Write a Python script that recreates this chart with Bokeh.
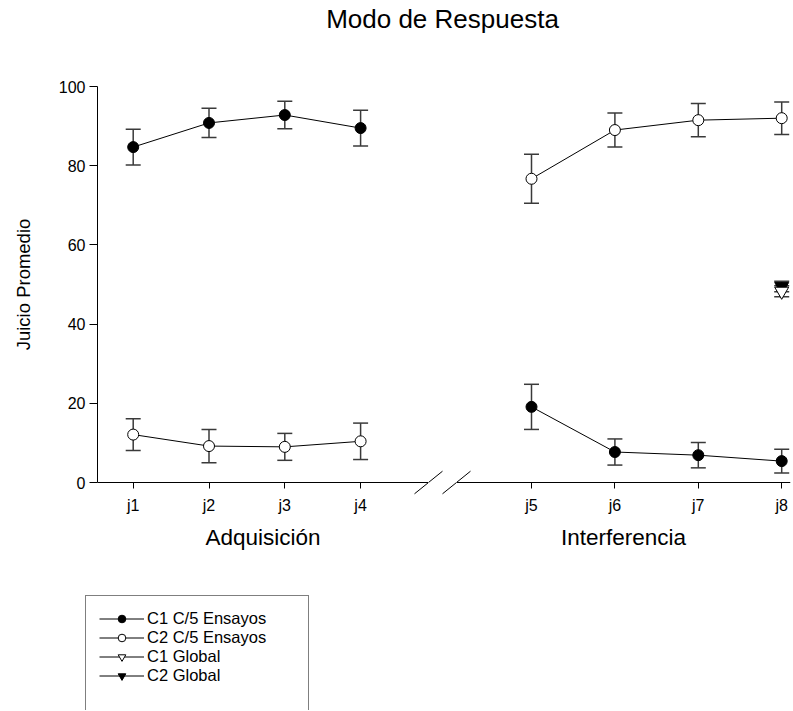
import math
from bokeh.plotting import figure
from bokeh.models import (Range1d, FixedTicker, Whisker, TeeHead, ColumnDataSource,
                          Legend, LegendItem, Label, LinearAxis)
from bokeh.core.properties import value
from bokeh.layouts import row, column
from bokeh.embed import file_html
from bokeh.resources import INLINE

# ---------------- data ----------------
title_text = "Modo de Respuesta"
y_label = "Juicio Promedio"
left_label = "Adquisición"
right_label = "Interferencia"
left_ticks = ["j1", "j2", "j3", "j4"]
right_ticks = ["j5", "j6", "j7", "j8"]
y_ticks = [0, 20, 40, 60, 80, 100]
legend_labels = ["C1 C/5 Ensayos", "C2 C/5 Ensayos", "C1 Global", "C2 Global"]

c1_left = [84.7, 90.8, 92.8, 89.5]
c1_left_err = [4.5, 3.7, 3.5, 4.5]
c2_left = [12.1, 9.2, 9.0, 10.4]
c2_left_err = [4.0, 4.2, 3.4, 4.6]

c1_right = [19.1, 7.7, 6.9, 5.4]
c1_right_err = [5.7, 3.3, 3.2, 3.0]
c2_right = [76.7, 89.0, 91.5, 92.0]
c2_right_err = [6.2, 4.3, 4.2, 4.1]

global_tick = "j8"
c1_global = [48.3]
c1_global_err = [1.4]
c2_global = [49.5]
c2_global_err = [1.3]

# ---------------- layout / style ----------------
FONT = "Liberation Sans"
ERR = "#3a3a3a"
TOP_H = 58           # title strip
ROW_H = 532          # plot row
LEG_H = 120          # legend strip
BORDER_TOP = 28
PX_PER_UNIT = 3.96   # vertical scale of the value axis
Y_MIN = -(ROW_H - BORDER_TOP - 100 * PX_PER_UNIT) / PX_PER_UNIT   # room for x axes
YLAB_W = 40          # strip holding the y axis title
LEFT_FRAME_X0 = 97   # absolute px where the left plot area starts
BREAK_A, BREAK_B = 428, 456   # absolute px of the two axis-break marks
RIGHT_FRAME_X1 = 790
TOTAL_W = 793
LEFT_W = BREAK_A - YLAB_W
MID_W = BREAK_B - BREAK_A
RIGHT_W = TOTAL_W - BREAK_B

all_ticks = left_ticks + right_ticks
pos = {t: i + 1 for i, t in enumerate(all_ticks)}
left_x = [pos[t] for t in left_ticks]
right_x = [pos[t] for t in right_ticks]
glob_x = [pos[global_tick]]


def base_fig(width, x_range, border_left, border_right):
    p = figure(width=width, height=ROW_H, x_range=x_range, y_range=Range1d(Y_MIN, 100),
               title=None, output_backend="svg", toolbar_location=None,
               y_axis_location=None, min_border_left=border_left,
               min_border_right=border_right, min_border_top=BORDER_TOP,
               min_border_bottom=0)
    p.outline_line_color = None
    p.grid.visible = False
    return p


def style_xaxis(p, ticks, label):
    ax = p.xaxis[0]
    ax.fixed_location = 0
    ax.ticker = FixedTicker(ticks=[pos[t] for t in ticks])
    ax.major_label_overrides = {pos[t]: t for t in ticks}
    ax.minor_tick_line_color = None
    ax.major_tick_out = 6
    ax.major_tick_in = 0
    ax.major_label_standoff = 8
    ax.major_label_text_font = FONT
    ax.major_label_text_font_size = "16px"
    ax.major_label_text_color = "black"
    ax.axis_label = label
    ax.axis_label_text_font = FONT
    ax.axis_label_text_font_size = "22.5px"
    ax.axis_label_text_font_style = "normal"
    ax.axis_label_text_color = "black"
    ax.axis_label_standoff = 8
    ax.axis_line_color = "black"
    ax.major_tick_line_color = "black"


def series(p, xs, ys, errs, marker, fill, size, draw_line=True):
    src = ColumnDataSource(dict(x=xs, y=ys,
                                upper=[y + e for y, e in zip(ys, errs)],
                                lower=[y - e for y, e in zip(ys, errs)]))
    w = Whisker(base="x", upper="upper", lower="lower", source=src, level="underlay",
                line_color=ERR, line_width=1.5,
                upper_head=TeeHead(size=15, line_color=ERR, line_width=1.5),
                lower_head=TeeHead(size=15, line_color=ERR, line_width=1.5))
    p.add_layout(w)
    if draw_line:
        p.line("x", "y", source=src, line_color="black", line_width=1)
    p.scatter("x", "y", source=src, marker=marker, size=size,
              fill_color=fill, line_color="black", line_width=1)


# axis-break marks: two slashes centred on the ends of the broken axis
HALF_W = 14.0
HALF_H = 11.3 / PX_PER_UNIT


def break_marks(p, to_data):
    p.segment(x0=[to_data(c - HALF_W) for c in (BREAK_A, BREAK_B)], y0=[-HALF_H] * 2,
              x1=[to_data(c + HALF_W) for c in (BREAK_A, BREAK_B)], y1=[HALF_H] * 2,
              line_color="black", line_width=1)


# ---------------- y axis title strip ----------------
ylab = base_fig(YLAB_W, Range1d(0, YLAB_W), 0, 0)
ylab.xaxis.visible = False
ylab.text(x=[23], y=[(y_ticks[0] + y_ticks[-1]) / 2], text=[y_label], angle=math.pi / 2,
          text_align="center", text_baseline="middle", text_font=value(FONT),
          text_font_size="18.5px", text_color="black")

# ---------------- left panel ----------------
left_step = 75.8
lx0 = pos[left_ticks[0]] - 35.7 / left_step
lx1 = lx0 + (BREAK_A - LEFT_FRAME_X0) / left_step
left = base_fig(LEFT_W, Range1d(lx0, lx1), LEFT_FRAME_X0 - YLAB_W, 0)
ya = LinearAxis()
left.add_layout(ya, "left")
ya.bounds = (0, 100)
ya.ticker = FixedTicker(ticks=y_ticks)
ya.minor_tick_line_color = None
ya.major_tick_out = 8
ya.major_tick_in = 0
ya.major_label_standoff = 4
ya.major_label_text_font = FONT
ya.major_label_text_font_size = "16px"
ya.major_label_text_color = "black"
ya.axis_line_color = "black"
style_xaxis(left, left_ticks, left_label)

series(left, left_x, c1_left, c1_left_err, "circle", "black", 11)
series(left, left_x, c2_left, c2_left_err, "circle", "white", 11)
break_marks(left, lambda px: lx0 + (px - LEFT_FRAME_X0) / left_step)

# ---------------- gap between the two axis pieces ----------------
mid = base_fig(MID_W, Range1d(BREAK_A, BREAK_B), 0, 0)
mid.xaxis.visible = False
break_marks(mid, lambda px: px)

# ---------------- right panel ----------------
right_step = 83.4
rx0 = pos[right_ticks[0]] - 75.0 / right_step
rx1 = rx0 + (RIGHT_FRAME_X1 - BREAK_B) / right_step
right = base_fig(RIGHT_W, Range1d(rx0, rx1), 0, TOTAL_W - RIGHT_FRAME_X1)
style_xaxis(right, right_ticks, right_label)

series(right, right_x, c1_right, c1_right_err, "circle", "black", 11)
series(right, right_x, c2_right, c2_right_err, "circle", "white", 11)
series(right, glob_x, c2_global, c2_global_err, "inverted_triangle", "black", 14, False)
series(right, glob_x, c1_global, c1_global_err, "inverted_triangle", "white", 14, False)
break_marks(right, lambda px: rx0 + (px - BREAK_B) / right_step)

# ---------------- legend strip ----------------
leg = figure(width=TOTAL_W, height=LEG_H, x_range=Range1d(0, 1), y_range=Range1d(0, 1),
             title=None, output_backend="svg", toolbar_location=None, min_border=0,
             x_axis_location=None, y_axis_location=None)
leg.outline_line_color = None
leg.grid.visible = False
offscreen = ColumnDataSource(dict(x=[5], y=[5]))


def leg_entry(marker, fill):
    ln = leg.line("x", "y", source=offscreen, line_color="black", line_width=1)
    sc = leg.scatter("x", "y", source=offscreen, marker=marker,
                     size=11 if marker == "circle" else 13,
                     fill_color=fill, line_color="black", line_width=1)
    return [ln, sc]


blank = leg.scatter("x", "y", source=offscreen, marker="circle", size=1,
                    fill_alpha=0, line_alpha=0)
pad = 13
row_h = 19
leg_box_h = 2 * pad + 5 * row_h
box_top = 7
legend = Legend(items=[
    LegendItem(label=legend_labels[0], renderers=leg_entry("circle", "black")),
    LegendItem(label=legend_labels[1], renderers=leg_entry("circle", "white")),
    LegendItem(label=legend_labels[2], renderers=leg_entry("inverted_triangle", "white")),
    LegendItem(label=legend_labels[3], renderers=leg_entry("inverted_triangle", "black")),
    LegendItem(label=" ", renderers=[blank]),
], location=(85, LEG_H - box_top - leg_box_h))
legend.margin = 0
legend.padding = pad
legend.spacing = 0
legend.glyph_width = 45
legend.glyph_height = row_h
legend.label_height = row_h
legend.label_width = 148
legend.label_standoff = 3
legend.label_text_font = FONT
legend.label_text_font_size = "16.5px"
legend.label_text_color = "black"
legend.border_line_color = "black"
legend.border_line_width = 1
legend.background_fill_color = "white"
legend.background_fill_alpha = 1
leg.add_layout(legend, "center")

# ---------------- title strip ----------------
top = figure(width=TOTAL_W, height=TOP_H, x_range=Range1d(0, TOTAL_W), y_range=Range1d(0, TOP_H),
             title=None, output_backend="svg", toolbar_location=None, min_border=0,
             x_axis_location=None, y_axis_location=None)
top.outline_line_color = None
top.grid.visible = False
top.add_layout(Label(x=442, y=TOP_H - 18, text=title_text, text_align="center",
                     text_baseline="alphabetic", text_font=FONT,
                     text_font_size="26px", text_color="black"))

layout = column(top, row(ylab, left, mid, right), leg)
open("out.html", "w").write(file_html(layout, INLINE))
